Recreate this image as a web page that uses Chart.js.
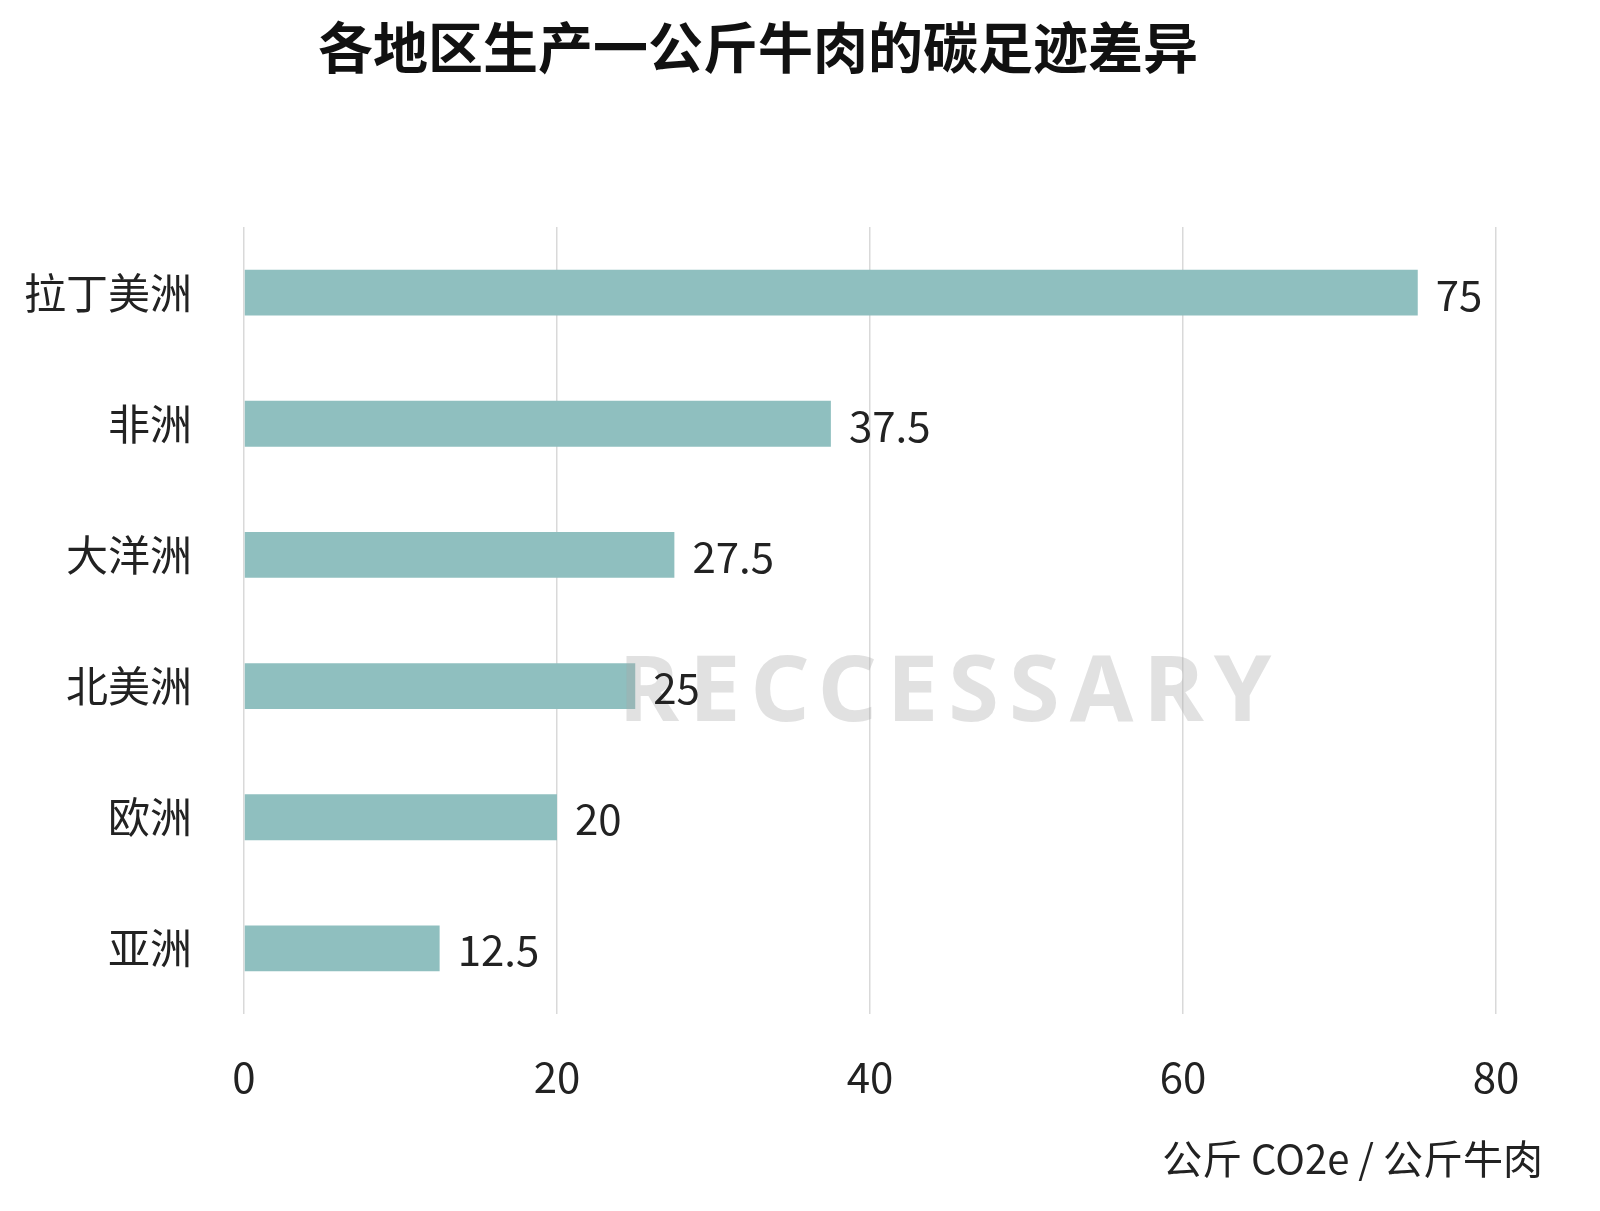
<!DOCTYPE html>
<html>
<head>
<meta charset="utf-8">
<script src="https://cdn.jsdelivr.net/npm/chart.js@4"></script>
<style>
  html, body { margin: 0; padding: 0; background: #fff; }
  #wrap { width: 1600px; height: 1211px; }
</style>
</head>
<body>
<div id="wrap"><canvas id="c"></canvas></div>
<script>
const regions = ["拉丁美洲", "非洲", "大洋洲", "北美洲", "欧洲", "亚洲"];
const values = [75, 37.5, 27.5, 25, 20, 12.5];
const xTicks = [0, 20, 40, 60, 80];
const unitText = '公斤 CO2e / 公斤牛肉';

const font = "'Noto Sans CJK SC', 'Noto Sans', sans-serif";

// 数值标签 + 水印 + 单位
const labelPlugin = {
    id: 'labels',
    afterDatasetsDraw(chart) {
        const ctx = chart.ctx;
        ctx.save();
        ctx.font = "bold 92px 'Noto Sans', sans-serif";
        ctx.fillStyle = 'rgba(170,170,170,0.35)';
        ctx.textAlign = 'center';
        ctx.textBaseline = 'middle';
        if (ctx.letterSpacing !== undefined) ctx.letterSpacing = '10px';
        ctx.fillText('RECCESSARY', 950, 695);
        ctx.restore();

        ctx.save();
        ctx.font = "42px " + font;
        ctx.fillStyle = '#222';
        ctx.textBaseline = 'middle';
        chart.getDatasetMeta(0).data.forEach((bar, i) => {
            ctx.fillText(String(values[i]), bar.x + 18, bar.y + 2);
        });
        ctx.font = "40px " + font;
        ctx.textAlign = 'right';
        ctx.fillText(unitText, 1543, chart.chartArea.bottom + 145);
        ctx.restore();
    }
};

new Chart(document.getElementById('c'), {
    type: 'bar',
    data: {
        labels: regions,
        datasets: [{
            data: values,
            backgroundColor: '#8fbfbf',
            barPercentage: 0.7,
            categoryPercentage: 0.5
        }]
    },
    plugins: [labelPlugin],
    options: {
        indexAxis: 'y',
        responsive: true,
        maintainAspectRatio: false,
        animation: false,
        layout: { padding: { left: 20, right: 104, top: 0, bottom: 30 } },
        plugins: {
            legend: { display: false },
            tooltip: { enabled: false },
            title: {
                display: true,
                text: '各地区生产一公斤牛肉的碳足迹差异',
                color: '#111',
                font: { family: font, size: 55, weight: 'bold' },
                padding: { top: 14, bottom: 147 }
            }
        },
        scales: {
            x: {
                min: 0, max: 80,
                afterBuildTicks(axis) { axis.ticks = xTicks.map(v => ({ value: v })); },
                afterFit(axis) { axis.height = 167; },
                grid: { color: '#d9d9d9', lineWidth: 1.5, drawTicks: false },
                border: { display: false },
                ticks: { color: '#222', padding: 38, font: { family: font, size: 42 } }
            },
            y: {
                afterFit(axis) { axis.width = 224; },
                grid: { display: false },
                border: { display: false },
                ticks: { color: '#222', padding: 44, font: { family: font, size: 42 } }
            }
        }
    }
});
</script>
</body>
</html>
